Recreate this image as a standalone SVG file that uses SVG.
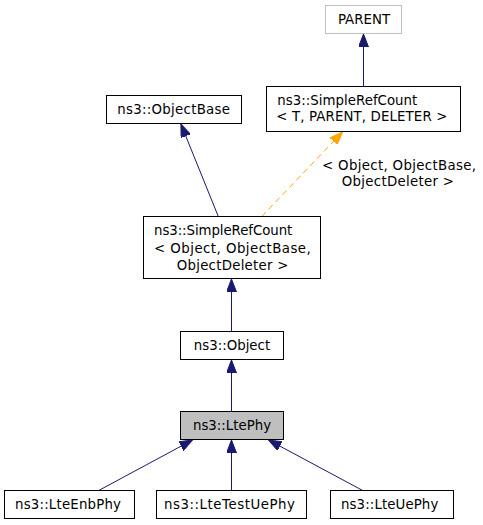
<svg xmlns="http://www.w3.org/2000/svg" width="483" height="525" viewBox="0 0 483 525">
<style>
  .box { fill: #ffffff; stroke: #000000; stroke-width: 1; }
  .gray { fill: #bfbfbf; }
  .ghost { stroke: #bfbfbf; }
  text { font-family: "DejaVu Sans", "Liberation Sans", sans-serif; font-size: 13.33px; fill: #000000; }
  .c { text-anchor: middle; }
  .edge { fill: none; stroke: #191970; stroke-width: 1; }
  .tmpl { fill: none; stroke: #ffa500; stroke-width: 1; stroke-dasharray: 6,4; }
</style>
<defs>
  <marker id="arrBlue" viewBox="0 0 13 10" refX="13" refY="5" markerWidth="13" markerHeight="10" markerUnits="userSpaceOnUse" orient="auto">
    <path d="M0,0 L13,5 L0,10 z" fill="#191970" stroke="#191970" stroke-width="1"/>
  </marker>
  <marker id="arrOrange" viewBox="0 0 13 10" refX="13" refY="5" markerWidth="13" markerHeight="10" markerUnits="userSpaceOnUse" orient="auto">
    <path d="M0,0 L13,5 L0,10 z" fill="#ffa500" stroke="#ffa500" stroke-width="1"/>
  </marker>
</defs>
<rect width="483" height="525" fill="#ffffff"/>

<g id="connectors">
  <path class="edge" d="M363.5,86.5 L363.5,34" marker-end="url(#arrBlue)"/>
  <path class="edge" d="M218.3,216.5 L180.9,124" marker-end="url(#arrBlue)"/>
  <path class="tmpl" d="M261.7,216.5 L342.5,132" marker-end="url(#arrOrange)"/>
  <g id="label-tmpl">
    <text x="322" y="170" textLength="154">&lt; Object, ObjectBase,</text>
    <text x="341.7" y="186" textLength="112.3">ObjectDeleter &gt;</text>
  </g>
  <path class="edge" d="M231.5,331.5 L231.5,279" marker-end="url(#arrBlue)"/>
  <path class="edge" d="M231.5,411.5 L231.5,360" marker-end="url(#arrBlue)"/>
  <path class="edge" d="M98.7,490.5 L192.5,440" marker-end="url(#arrBlue)"/>
  <path class="edge" d="M231.5,490.5 L231.5,440" marker-end="url(#arrBlue)"/>
  <path class="edge" d="M362.7,490.5 L268.5,440" marker-end="url(#arrBlue)"/>
</g>

<g id="node-parent">
  <rect class="box ghost" x="325.5" y="5.5" width="76" height="28"/>
  <text class="c" x="364" y="24.2">PARENT</text>
</g>
<g id="node-simplerefcount-t">
  <rect class="box" x="266.5" y="86.5" width="194" height="45"/>
  <text x="277.3" y="104.5" textLength="140">ns3::SimpleRefCount</text>
  <text x="276.3" y="121.3" textLength="171">&lt; T, PARENT, DELETER &gt;</text>
</g>
<g id="node-objectbase">
  <rect class="box" x="106.5" y="95.5" width="135" height="28"/>
  <text x="117.3" y="113.7" textLength="112.7">ns3::ObjectBase</text>
</g>
<g id="node-simplerefcount-object">
  <rect class="box" x="143.5" y="216.5" width="177" height="62"/>
  <text x="154" y="235.3" textLength="138.3">ns3::SimpleRefCount</text>
  <text x="154" y="252.5" textLength="156.7">&lt; Object, ObjectBase,</text>
  <text x="176.7" y="269.7" textLength="111.7">ObjectDeleter &gt;</text>
</g>
<g id="node-object">
  <rect class="box" x="180.5" y="331.5" width="103" height="28"/>
  <text class="c" x="232" y="349.7">ns3::Object</text>
</g>
<g id="node-ltephy">
  <rect class="box gray" x="180.5" y="411.5" width="103" height="28"/>
  <text class="c" x="232" y="429.7">ns3::LtePhy</text>
</g>
<g id="node-lteenbphy">
  <rect class="box" x="4.5" y="490.5" width="130" height="28"/>
  <text x="15" y="508.9" textLength="106">ns3::LteEnbPhy</text>
</g>
<g id="node-ltetestuephy">
  <rect class="box" x="156.5" y="490.5" width="150" height="28"/>
  <text x="164" y="508.9" textLength="131">ns3::LteTestUePhy</text>
</g>
<g id="node-lteuephy">
  <rect class="box" x="330.5" y="490.5" width="123" height="28"/>
  <text x="341" y="508.9" textLength="97.3">ns3::LteUePhy</text>
</g>
</svg>
